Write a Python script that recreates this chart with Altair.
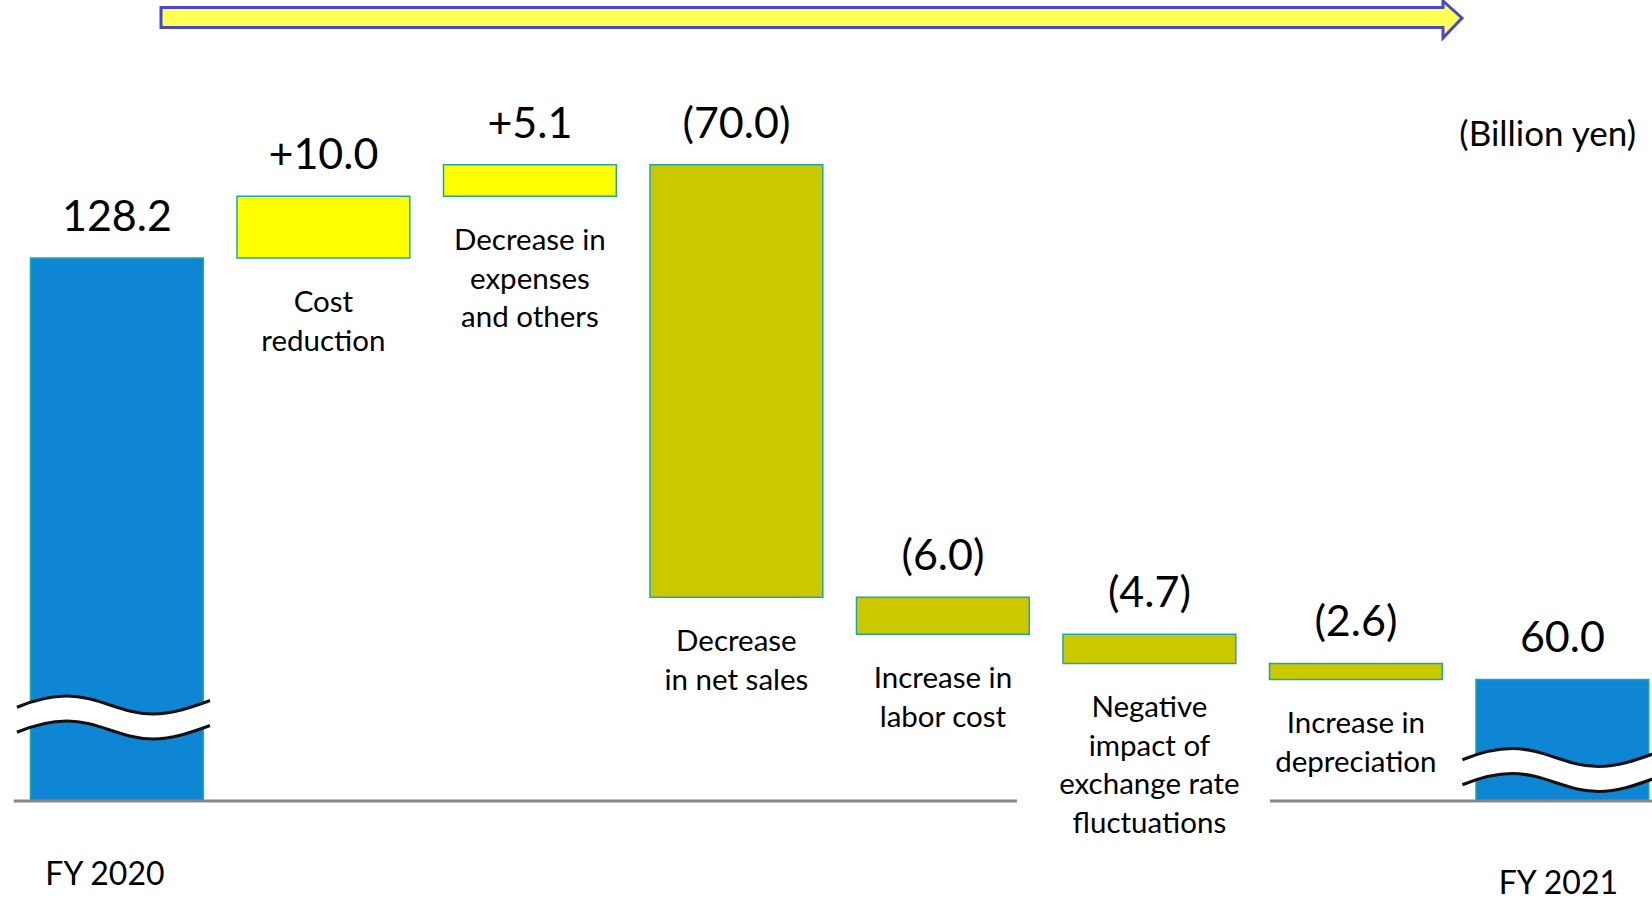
import altair as alt
import pandas as pd

# ---------------- data ----------------
categories = ["FY 2020", "Cost reduction", "Decrease in expenses and others",
              "Decrease in net sales", "Increase in labor cost",
              "Negative impact of exchange rate fluctuations",
              "Increase in depreciation", "FY 2021"]
amounts = [128.2, 10.0, 5.1, -70.0, -6.0, -4.7, -2.6, 60.0]
is_total = [True, False, False, False, False, False, False, True]
value_labels = ["128.2", "+10.0", "+5.1", "(70.0)", "(6.0)", "(4.7)", "(2.6)", "60.0"]
category_labels = ["", "Cost\nreduction", "Decrease in\nexpenses\nand others",
                   "Decrease\nin net sales", "Increase in\nlabor cost",
                   "Negative\nimpact of\nexchange rate\nfluctuations",
                   "Increase in\ndepreciation", ""]
fy_labels = ["FY 2020", "FY 2021"]
unit_label = "(Billion yen)"

# broken value axis: totals are drawn from the break level upward
AXIS_BREAK = 40.38
Y_DOMAIN = [24.15, 169.95]

rows = []
running = 0.0
for cat, amt, tot, vl, cl in zip(categories, amounts, is_total, value_labels, category_labels):
    if tot:
        start, end = AXIS_BREAK, amt
        running = amt
        kind = "total"
    else:
        start, end = running, running + amt
        running = end
        kind = "up" if amt > 0 else "down"
    rows.append(dict(category=cat, top=max(start, end), bottom=min(start, end),
                     kind=kind, value_label=vl, cat_label=cl))
df = pd.DataFrame(rows)

W, H = 1652, 901
FONT = "Lato"

x_enc = alt.X("category:N", sort=categories, axis=None,
              scale=alt.Scale(range=[30.5, 1648.8], paddingInner=0.163, paddingOuter=0))
y_scale = alt.Scale(domain=Y_DOMAIN, nice=False, zero=False)

base = alt.Chart(df)

bars = base.mark_bar(stroke="#1BA8AC", strokeWidth=1.5).encode(
    x=x_enc,
    y=alt.Y("top:Q", axis=None, scale=y_scale),
    y2="bottom:Q",
    color=alt.Color("kind:N", legend=None,
                    scale=alt.Scale(domain=["total", "up", "down"],
                                    range=["#0E86D4", "#FFFF00", "#CCC800"])),
)

value_text = base.mark_text(font=FONT, fontSize=43, baseline="alphabetic", dy=-27,
                            color="black").encode(
    x=x_enc, y=alt.Y("top:Q", axis=None, scale=y_scale), text="value_label:N")

cat_text = base.transform_filter("datum.cat_label != ''").mark_text(
    font=FONT, fontSize=29.5, baseline="top", lineBreak="\n", lineHeight=38.5, dy=31,
    color="black").encode(
    x=x_enc, y=alt.Y("bottom:Q", axis=None, scale=y_scale), text="cat_label:N")

# axis-break waves
WAVE_TOP = "M-100,-10.2 C-85,-16.5 -65,-21.5 -50,-21.5 C-18.7,-21.5 4.7,-3.5 36,-3.5 C56,-3.5 75,-10.5 93,-16.9"
WAVE_BOT = "M-100,14.8 C-85,8.5 -65,3.5 -50,3.5 C-18.7,3.5 4.7,21.5 36,21.5 C56,21.5 75,14.5 93,8.1"
WAVE_FILL = ("M-100,-10.2 C-85,-16.5 -65,-21.5 -50,-21.5 C-18.7,-21.5 4.7,-3.5 36,-3.5 "
             "C56,-3.5 75,-10.5 93,-16.9 L93,8.1 C75,14.5 56,21.5 36,21.5 "
             "C4.7,21.5 -18.7,3.5 -50,3.5 C-65,3.5 -85,8.5 -100,14.8 Z")

def wave_layers(cat, ypix, dx):
    w = base.transform_filter(alt.datum.category == cat)
    fill = w.mark_point(shape=WAVE_FILL, size=4, filled=True, fill="white",
                        strokeWidth=0, opacity=1, dx=dx).encode(x=x_enc, y=alt.value(ypix))
    line = w.mark_point(shape=WAVE_TOP + " " + WAVE_BOT, size=4, filled=False,
                        stroke="#111111", strokeWidth=3.2, opacity=1, dx=dx).encode(
        x=x_enc, y=alt.value(ypix))
    return [fill, line]

waves = wave_layers("FY 2020", 717.5, 0) + wave_layers("FY 2021", 770, -4)

# baseline (interrupted under the exchange-rate label)
one = alt.Chart(alt.Data(values=[{"a": 1}]))
rule1 = one.mark_rule(color="#888888", strokeWidth=3).encode(
    x=alt.value(13.7), x2=alt.value(1017), y=alt.value(801))
rule2 = one.mark_rule(color="#888888", strokeWidth=3).encode(
    x=alt.value(1270), x2=alt.value(1652), y=alt.value(801))

fy1 = base.transform_filter(alt.datum.category == fy_labels[0]).mark_text(
    font=FONT, fontSize=32, baseline="middle", dx=-12, color="black").encode(
    x=x_enc, y=alt.value(875), text="category:N")
fy2 = base.transform_filter(alt.datum.category == fy_labels[1]).mark_text(
    font=FONT, fontSize=32, baseline="middle", dx=-4, color="black").encode(
    x=x_enc, y=alt.value(884), text="category:N")

unit = one.mark_text(font=FONT, fontSize=35, align="right", baseline="middle",
                     color="black").encode(x=alt.value(1636), y=alt.value(135),
                                           text=alt.value(unit_label))

ARROW = "M161,7.5 L1443,7.5 L1443,1 L1462,18 L1443,38 L1443,27.5 L161,27.5 Z"
arrow = one.mark_point(shape=ARROW, size=4, filled=True, fill="#FFFF55",
                       stroke="#4A48C8", strokeWidth=3, opacity=1).encode(
    x=alt.value(0), y=alt.value(0))

chart = alt.layer(bars, *waves, rule1, rule2, value_text, cat_text, fy1, fy2, unit, arrow
                  ).properties(width=W, height=H, padding=0, autosize="none",
                               background="white"
                  ).configure_view(strokeWidth=0)

chart.save("out.html", embed_options={"renderer": "svg", "actions": False})
